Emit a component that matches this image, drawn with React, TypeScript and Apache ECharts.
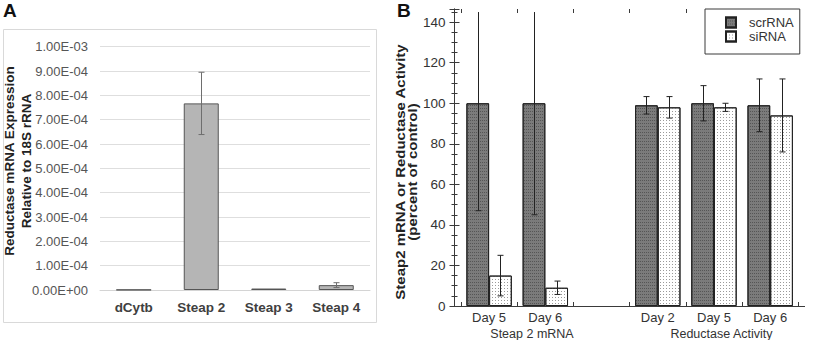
import React, { useEffect, useRef } from 'react';
import * as echarts from 'echarts';

// Panel A: reductase mRNA expression relative to 18S rRNA
const genes = ['dCytb', 'Steap 2', 'Steap 3', 'Steap 4'];
const expression = [0.000001, 0.000767, 0.000006, 0.00002];
const expressionErr = [0, 0.000128, 0, 0.00001];
const expressionMax = 0.001;
const expressionStep = 0.0001;

// Panel B: Steap2 knock-down, percent of control
const dayLabels = ['Day 5', 'Day 6', '', 'Day 2', 'Day 5', 'Day 6'];
const scrMean: (number | null)[] = [100, 100, null, 99, 100, 99];
const scrSd: (number | null)[] = [53, 55, null, 4.3, 8.7, 13];
const siMean: (number | null)[] = [15, 9, null, 98, 98, 94];
const siSd: (number | null)[] = [10, 3.3, null, 5.3, 2, 18];
const groupLabels = ['Steap 2 mRNA', 'Reductase Activity'];
const percentMax = 146.5;
const percentStep = 20;
const percentClip = 145;

const FONT = '"Liberation Sans", Arial, Helvetica, sans-serif';
const BAR_B = 22.7;

function sci(v: number): string {
  if (Math.abs(v) < 1e-12) return '0.00E+00';
  let e = Math.floor(Math.log10(Math.abs(v)) + 1e-6);
  let m = v / Math.pow(10, e);
  if (Math.abs(m) >= 9.995) {
    e += 1;
    m = v / Math.pow(10, e);
  }
  const sign = e < 0 ? '-' : '+';
  return m.toFixed(2) + 'E' + sign + String(Math.abs(e)).padStart(2, '0');
}

function errorRows(mean: (number | null)[], sd: (number | null)[]) {
  const rows: number[][] = [];
  mean.forEach((m, i) => {
    const s = sd[i];
    if (m == null || s == null || s === 0) return;
    rows.push([i, m - s, m + s]);
  });
  return rows;
}

function errorBars(capHalf: number, offset: number, color: string, clip?: number) {
  return (_params: any, api: any) => {
    const idx = api.value(0);
    const lo = api.value(1);
    const hi = api.value(2);
    const clipped = clip != null && hi > clip;
    const pLo = api.coord([idx, lo]);
    const pHi = api.coord([idx, clipped ? clip : hi]);
    const x = Math.round(pLo[0] + offset) + 0.5;
    const style = { stroke: color, lineWidth: 1 };
    const children: any[] = [
      { type: 'line', shape: { x1: x, y1: pHi[1], x2: x, y2: pLo[1] }, style },
      { type: 'line', shape: { x1: x - capHalf, y1: pLo[1], x2: x + capHalf, y2: pLo[1] }, style },
    ];
    if (!clipped) {
      children.push({ type: 'line', shape: { x1: x - capHalf, y1: pHi[1], x2: x + capHalf, y2: pHi[1] }, style });
    }
    return { type: 'group', children };
  };
}

const frameColor = '#3a3a3a';

function buildOption(): any {
  return {
    animation: false,
    backgroundColor: '#ffffff',
    textStyle: { fontFamily: FONT },
    grid: [
      { left: 100, top: 46.7, width: 270, height: 243.3 },
      { left: 461, top: 9, width: 337.3, height: 297 },
      { left: 454.5, top: 9, width: 350, height: 297 },
    ],
    legend: {
      data: ['scrRNA', 'siRNA'],
      orient: 'vertical',
      left: 705,
      top: 9,
      icon: 'rect',
      itemWidth: 10,
      itemHeight: 10,
      itemGap: 1,
      padding: [7, 6, 11, 20],
      backgroundColor: '#ffffff',
      borderColor: frameColor,
      borderWidth: 1,
      borderRadius: 0,
      formatter: '{n|{name}}',
      textStyle: {
        fontFamily: FONT,
        fontSize: 13,
        color: '#333',
        rich: { n: { fontFamily: FONT, fontSize: 13, color: '#333', padding: [0, 0, 0, 8] } },
      },
    },
    xAxis: [
      {
        type: 'category',
        gridIndex: 0,
        data: genes,
        axisLine: { lineStyle: { color: '#d4d4d4' } },
        axisTick: { show: false },
        axisLabel: { fontFamily: FONT, fontSize: 13.5, fontWeight: 'bold', color: '#404040', margin: 10 },
      },
      {
        type: 'category',
        gridIndex: 1,
        position: 'bottom',
        data: dayLabels,
        axisLine: { show: false },
        axisTick: { show: true, inside: true, length: 4, lineStyle: { color: frameColor } },
        axisLabel: { fontFamily: FONT, fontSize: 13, color: '#333', margin: 5 },
      },
      {
        type: 'category',
        gridIndex: 1,
        position: 'top',
        data: dayLabels,
        axisLine: { show: false },
        axisTick: { show: true, inside: true, length: 4, lineStyle: { color: frameColor } },
        axisLabel: { show: false },
      },
      {
        type: 'value',
        gridIndex: 2,
        position: 'bottom',
        min: 0,
        max: 1,
        axisLine: { show: true, lineStyle: { color: frameColor } },
        axisTick: { show: false },
        axisLabel: { show: false },
        splitLine: { show: false },
      },
      {
        type: 'value',
        gridIndex: 2,
        position: 'top',
        min: 0,
        max: 1,
        axisLine: { show: true, lineStyle: { color: frameColor } },
        axisTick: { show: false },
        axisLabel: { show: false },
        splitLine: { show: false },
      },
    ],
    yAxis: [
      {
        type: 'value',
        gridIndex: 0,
        min: 0,
        max: expressionMax,
        interval: expressionStep,
        axisLine: { show: false },
        axisTick: { show: false },
        splitLine: { lineStyle: { color: '#dedede' } },
        axisLabel: { fontFamily: FONT, fontSize: 13, color: '#555', margin: 12, formatter: (v: number) => sci(v) },
      },
      {
        type: 'value',
        gridIndex: 1,
        min: 0,
        max: percentMax,
        show: false,
        splitLine: { show: false },
      },
      {
        type: 'value',
        gridIndex: 2,
        position: 'left',
        min: 0,
        max: percentMax,
        interval: percentStep,
        axisLine: { show: true, lineStyle: { color: frameColor } },
        axisTick: { show: true, inside: true, length: 5, lineStyle: { color: frameColor } },
        minorTick: { show: true, splitNumber: 4, length: 3, lineStyle: { color: frameColor } },
        splitLine: { show: false },
        axisLabel: {
          fontFamily: FONT,
          fontSize: 13.5,
          color: '#333',
          margin: 9,
          formatter: (v: number) => (Math.abs(v % percentStep) < 1e-6 ? String(v) : ''),
        },
      },
      {
        type: 'value',
        gridIndex: 2,
        position: 'right',
        min: 0,
        max: percentMax,
        interval: percentStep,
        axisLine: { show: true, lineStyle: { color: frameColor } },
        axisTick: { show: true, inside: true, length: 5, lineStyle: { color: frameColor } },
        minorTick: { show: true, splitNumber: 4, length: 3, lineStyle: { color: frameColor } },
        splitLine: { show: false },
        axisLabel: { show: false },
      },
    ],
    series: [
      {
        type: 'bar',
        name: 'Expression',
        xAxisIndex: 0,
        yAxisIndex: 0,
        data: expression,
        barWidth: 35,
        itemStyle: { color: '#b5b5b5', borderColor: '#555', borderWidth: 1 },
      },
      {
        type: 'custom',
        name: 'Expression error',
        xAxisIndex: 0,
        yAxisIndex: 0,
        data: expression.map((v, i) => [i, v - expressionErr[i], v + expressionErr[i]]).filter((_, i) => expressionErr[i] > 0),
        encode: { x: 0, y: [1, 2] },
        renderItem: errorBars(3, 0, '#6e6e6e'),
        z: 5,
        silent: true,
      },
      {
        type: 'bar',
        name: 'scrRNA',
        xAxisIndex: 1,
        yAxisIndex: 1,
        data: scrMean,
        barWidth: BAR_B,
        barGap: '0%',
        itemStyle: {
          color: '#7b7b7b',
          borderColor: '#222',
          borderWidth: 1,
          decal: { symbol: 'rect', symbolSize: 1, dashArrayX: [1, 1], dashArrayY: [1, 2], color: '#555555' },
        },
      },
      {
        type: 'bar',
        name: 'siRNA',
        xAxisIndex: 1,
        yAxisIndex: 1,
        data: siMean,
        barWidth: BAR_B,
        barGap: '0%',
        itemStyle: {
          color: '#ffffff',
          borderColor: '#222',
          borderWidth: 1,
          decal: { symbol: 'rect', symbolSize: 1, dashArrayX: [1, 2], dashArrayY: [1, 2], color: '#9a9a9a' },
        },
      },
      {
        type: 'custom',
        name: 'scrRNA error',
        xAxisIndex: 1,
        yAxisIndex: 1,
        data: errorRows(scrMean, scrSd),
        encode: { x: 0, y: [1, 2] },
        renderItem: errorBars(3, -BAR_B / 2, '#222', percentClip),
        z: 5,
        silent: true,
      },
      {
        type: 'custom',
        name: 'siRNA error',
        xAxisIndex: 1,
        yAxisIndex: 1,
        data: errorRows(siMean, siSd),
        encode: { x: 0, y: [1, 2] },
        renderItem: errorBars(3, BAR_B / 2, '#222', percentClip),
        z: 5,
        silent: true,
      },
    ],
    graphic: [
      {
        type: 'rect',
        z: -1,
        shape: { x: 3.5, y: 29.5, width: 373, height: 293 },
        style: { fill: 'none', stroke: '#d9d9d9', lineWidth: 1 },
      },
      {
        type: 'text',
        x: 3,
        y: 1,
        style: { text: 'A', font: `bold 19px ${FONT}`, fill: '#111' },
      },
      {
        type: 'text',
        x: 397,
        y: 1,
        style: { text: 'B', font: `bold 19px ${FONT}`, fill: '#111' },
      },
      {
        type: 'text',
        x: 17.5,
        y: 161,
        rotation: Math.PI / 2,
        style: {
          text: 'Reductase mRNA Expression\nRelative to 18S rRNA',
          font: `bold 13.5px ${FONT}`,
          lineHeight: 17,
          align: 'center',
          verticalAlign: 'middle',
          fill: '#222',
        },
      },
      {
        type: 'text',
        x: 406.5,
        y: 172,
        rotation: Math.PI / 2,
        scaleY: 0.88,
        style: {
          text: 'Steap2 mRNA or Reductase Activity\n(percent of control)',
          font: `bold 15px ${FONT}`,
          lineHeight: 13,
          align: 'center',
          verticalAlign: 'middle',
          fill: '#222',
        },
      },
      {
        type: 'text',
        x: 532,
        y: 333.5,
        style: { text: groupLabels[0], font: `12.5px ${FONT}`, align: 'center', verticalAlign: 'middle', fill: '#333' },
      },
      {
        type: 'text',
        x: 721.5,
        y: 333.5,
        style: { text: groupLabels[1], font: `12.5px ${FONT}`, align: 'center', verticalAlign: 'middle', fill: '#333' },
      },
    ],
  };
}

export default function App() {
  const ref = useRef<HTMLDivElement>(null);
  useEffect(() => {
    if (!ref.current) return;
    const chart = echarts.init(ref.current, null, { renderer: 'svg' });
    chart.setOption(buildOption());
    return () => chart.dispose();
  }, []);
  return (
    <div
      ref={ref}
      style={{ position: 'fixed', left: 0, top: 0, width: 820, height: 340, background: '#fff' }}
    />
  );
}
